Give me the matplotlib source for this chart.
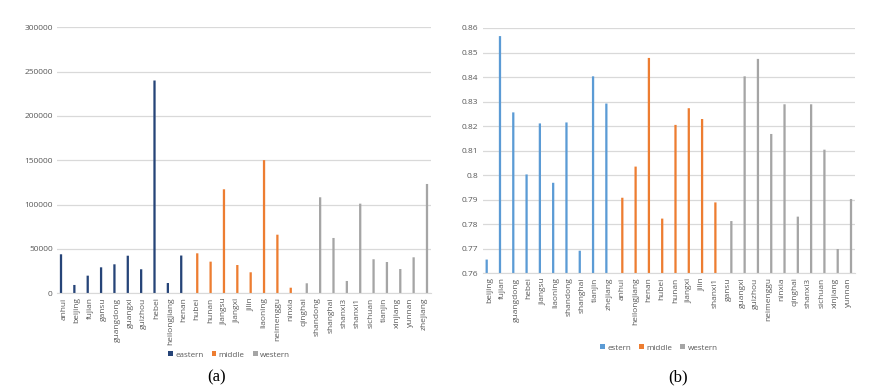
import numpy as np
import matplotlib
matplotlib.use("Agg")
import matplotlib.pyplot as plt
from matplotlib.ticker import FuncFormatter, MultipleLocator

plt.rcParams.update({"font.family": ["Open Sans", "DejaVu Sans"],
                     "text.color": "#595959", "xtick.color": "#595959",
                     "ytick.color": "#595959"})

# ---- (a) ----
prov_a = ["anhui", "beijing", "fujian", "gansu", "guangdong", "guangxi", "guizhou",
          "hebei", "heilongjiang", "henan",
          "hubei", "hunan", "jiangsu", "jiangxi", "jilin", "liaoning", "neimenggu", "ninxia",
          "qinghai", "shandong", "shanghai", "shanxi3", "shanxi1", "sichuan", "tianjin",
          "xinjiang", "yunnan", "zhejiang"]
grp_a = ["eastern"] * 10 + ["middle"] * 8 + ["western"] * 10
val_a = [44000, 9400, 19900, 29300, 32700, 42400, 27100, 240000, 11600, 42600,
         45100, 35700, 117300, 31900, 23700, 150200, 66100, 6300,
         11300, 108300, 62400, 13900, 101100, 38400, 35300, 27400, 40600, 123300]
names_a = ["eastern", "middle", "western"]
cols_a = ["#264478", "#ED7D31", "#A5A5A5"]

# ---- (b) ----
prov_b = ["beijing", "fujian", "guangdong", "hebei", "jiangsu", "liaoning", "shandong",
          "shanghai", "tianjin", "zhejiang",
          "anhui", "heilongjiang", "henan", "hubei", "hunan", "jiangxi", "jilin", "shanxi1",
          "gansu", "guangxi", "guizhou", "neimenggu", "ninxia", "qinghai", "shanxi3",
          "sichuan", "xinjiang", "yunnan"]
grp_b = ["estern"] * 10 + ["middle"] * 8 + ["western"] * 10
val_b = [0.7656, 0.8567, 0.8256, 0.8003, 0.8211, 0.7969, 0.8215, 0.7692, 0.8403, 0.8292,
         0.7908, 0.8035, 0.8478, 0.7823, 0.8205, 0.8273, 0.8229, 0.7889,
         0.7813, 0.8403, 0.8474, 0.8168, 0.8289, 0.7831, 0.8289, 0.8104, 0.7699, 0.7903]
names_b = ["estern", "middle", "western"]
cols_b = ["#5B9BD5", "#ED7D31", "#A5A5A5"]

W, H = 879, 391
fig = plt.figure(figsize=(W / 100, H / 100), dpi=100)
ax_a = fig.add_axes([57 / W, 1 - 293.3 / H, 374 / W, 266 / H])
ax_b = fig.add_axes([482.7 / W, 1 - 273.3 / H, 372.3 / W, 245.3 / H])


def draw(ax, prov, grp, vals, names, cols):
    x = np.arange(len(prov))
    offs = [-0.2, 0.0, 0.2]
    for k, nm in enumerate(names):
        idx = [i for i, g in enumerate(grp) if g == nm]
        ax.bar(x[idx] + offs[k], [vals[i] for i in idx], width=0.17,
               color=cols[k], label=nm, zorder=3, snap=False)
    ax.set_xlim(-0.5, len(prov) - 0.5)
    ax.set_xticks(x)
    ax.set_xticklabels(prov, rotation=90, fontsize=6)
    ax.tick_params(axis="both", length=0, labelsize=6, pad=3)
    ax.grid(axis="y", color="#D9D9D9", linewidth=0.9, zorder=0)
    for s in ["top", "right", "left"]:
        ax.spines[s].set_visible(False)
    ax.spines["bottom"].set_color("#D9D9D9")
    ax.spines["bottom"].set_zorder(4)


draw(ax_a, prov_a, grp_a, val_a, names_a, cols_a)
ax_a.set_ylim(0, 300000)
ax_a.yaxis.set_major_locator(MultipleLocator(50000))
ax_a.yaxis.set_major_formatter(FuncFormatter(lambda v, p: f"{int(v)}"))

draw(ax_b, prov_b, grp_b, val_b, names_b, cols_b)
ax_b.set_ylim(0.76, 0.86)
ax_b.yaxis.set_major_locator(MultipleLocator(0.01))
ax_b.yaxis.set_major_formatter(FuncFormatter(lambda v, p: f"{round(v, 2):g}"))

leg_kw = dict(ncol=3, frameon=False, fontsize=5.8, handlelength=0.6, handleheight=0.6,
              handletextpad=0.3, columnspacing=1.0, loc="center")
fig.legend(*ax_a.get_legend_handles_labels(), bbox_to_anchor=(229 / W, 1 - 355 / H), **leg_kw)
fig.legend(*ax_b.get_legend_handles_labels(), bbox_to_anchor=(659 / W, 1 - 348 / H), **leg_kw)

fig.text(217 / W, 1 - 377 / H, "(a)", ha="center", va="center", fontsize=12,
         family="Liberation Serif", color="black")
fig.text(678 / W, 1 - 377 / H, "(b)", ha="center", va="center", fontsize=12,
         family="Liberation Serif", color="black")

fig.savefig("out.png", dpi=100)
